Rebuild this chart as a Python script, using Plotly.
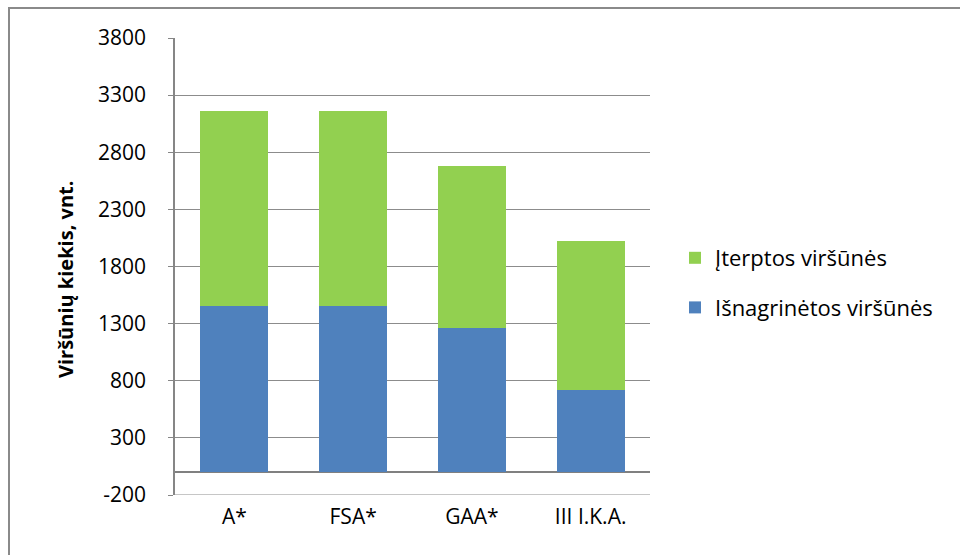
import plotly.graph_objects as go

categories = ["A*", "FSA*", "GAA*", "III I.K.A."]
isnagrinetos = [1457, 1457, 1262, 719]
iterptos = [1704, 1704, 1418, 1304]
y_ticks = [-200, 300, 800, 1300, 1800, 2300, 2800, 3300, 3800]
y_tick_labels = ["-200", "300", "800", "1300", "1800", "2300", "2800", "3300", "3800"]

FONT = "Open Sans"
L, R, T, B = 175, 310, 38, 60
W, H = 960, 555
pw, ph = W - L - R, H - T - B

fig = go.Figure()
fig.add_trace(go.Bar(x=categories, y=isnagrinetos, name="Išnagrinėtos viršūnės",
                     marker=dict(color="#4F81BD", line=dict(width=0)),
                     legendgroup="a", legendrank=2))
fig.add_trace(go.Bar(x=categories, y=iterptos, name="Įterptos viršūnės",
                     marker=dict(color="#92D050", line=dict(width=0)),
                     legendgroup="b", legendrank=1))

fig.update_layout(
    width=W, height=H,
    margin=dict(l=L, r=R, t=T, b=B),
    barmode="stack", bargap=0.427,
    paper_bgcolor="white", plot_bgcolor="white",
    font=dict(family=FONT, size=21, color="black"),
    showlegend=True,
    legend=dict(x=(675 - L) / pw, y=(495 - 283) / ph, xanchor="left", yanchor="middle",
                traceorder="grouped", tracegroupgap=18,
                font=dict(family=FONT, size=22, color="black"),
                bgcolor="rgba(0,0,0,0)"),
    xaxis=dict(range=[-0.5, 3.5], showgrid=False, showline=False, zeroline=False,
               ticks="outside", ticklen=3, tickcolor="white",
               tickfont=dict(family=FONT, size=21, color="black")),
    yaxis=dict(range=[-200, 3800], tickvals=y_ticks, ticktext=y_tick_labels,
               showgrid=True, gridcolor="#8C8C8C", gridwidth=1,
               zeroline=True, zerolinecolor="#808080", zerolinewidth=1.5,
               showline=True, linecolor="#868686", linewidth=1.5,
               ticks="outside", ticklen=5, tickcolor="#868686",
               ticklabelstandoff=18,
               tickfont=dict(family=FONT, size=21, color="black")),
    annotations=[dict(text="<b>Viršūnių kiekis, vnt.</b>", textangle=-90,
                      xref="paper", yref="paper",
                      x=(65 - L) / pw, y=(495 - 280) / ph,
                      xanchor="center", yanchor="middle", showarrow=False,
                      font=dict(family=FONT, size=20, color="black"))],
    shapes=[dict(type="rect", xref="paper", yref="paper",
                 x0=(9 - L) / pw, x1=(975 - L) / pw,
                 y0=(495 - 570) / ph, y1=(495 - 8) / ph,
                 line=dict(color="#8A8A8A", width=2), fillcolor="rgba(0,0,0,0)",
                 layer="below"),
            dict(type="line", xref="paper", yref="y", x0=0, x1=1, y0=-200, y1=-200,
                 line=dict(color="#8C8C8C", width=1), layer="below")],
)

fig.write_html("out.html")
